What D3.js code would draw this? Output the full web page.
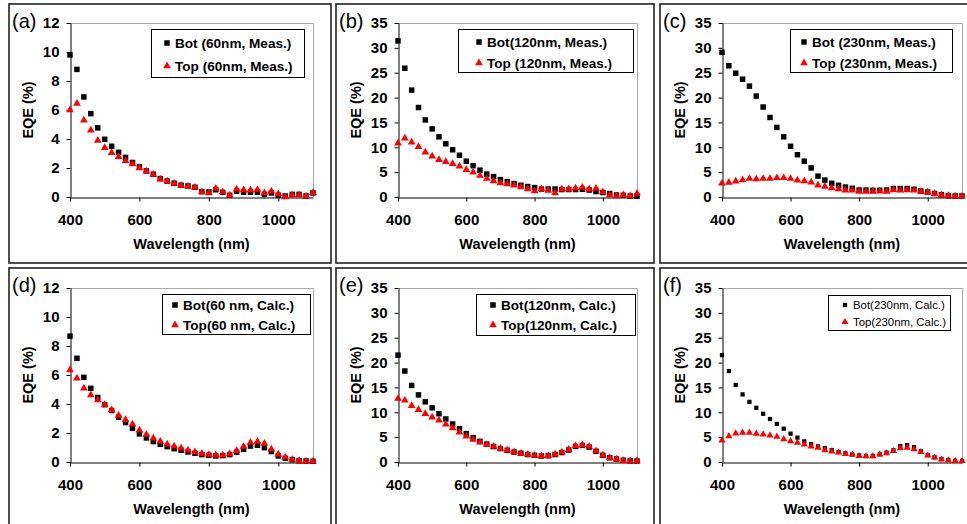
<!DOCTYPE html>
<html>
<head>
<meta charset="utf-8">
<script src="https://cdn.jsdelivr.net/npm/d3@7"></script>
<style>
  body { margin: 0; background: #fff; }
  svg { display: block; font-family: "Liberation Sans", Arial, sans-serif; }
</style>
</head>
<body>
<svg id="chart" width="967" height="524"></svg>
<script>
// wavelength grid (nm), one point every 20 nm
const wavelengths = [400, 420, 440, 460, 480, 500, 520, 540, 560, 580, 600, 620,
  640, 660, 680, 700, 720, 740, 760, 780, 800, 820, 840, 860, 880, 900, 920, 940,
  960, 980, 1000, 1020, 1040, 1060, 1080, 1100];

const xTicks = [400, 600, 800, 1000];
const yTicksSmall = [0, 2, 4, 6, 8, 10, 12];
const yTicksLarge = [0, 5, 10, 15, 20, 25, 30, 35];

// (a) 60 nm measured
const botA = [9.8, 8.8, 6.9, 5.75, 4.77, 3.98, 3.5, 3.08, 2.73, 2.38, 2.08, 1.8,
  1.57, 1.27, 1.1, 0.95, 0.81, 0.76, 0.67, 0.37, 0.35, 0.5, 0.32, 0.12, 0.4, 0.33,
  0.33, 0.33, 0.18, 0.28, 0.12, 0.07, 0.18, 0.18, 0.07, 0.28];
const topA = [6.0, 6.45, 5.3, 4.6, 3.9, 3.4, 3.05, 2.78, 2.5, 2.27, 2.0, 1.78,
  1.55, 1.23, 1.09, 0.93, 0.79, 0.72, 0.65, 0.35, 0.28, 0.58, 0.35, 0.12, 0.53, 0.49,
  0.46, 0.51, 0.28, 0.39, 0.21, 0.0, 0.12, 0.14, 0.05, 0.3];

// (b) 120 nm measured
const botB = [31.4, 25.9, 21.5, 18.0, 15.5, 13.7, 12.1, 10.7, 9.5, 8.4, 7.2, 6.3,
  5.4, 4.6, 4.1, 3.5, 3.1, 2.7, 2.35, 2.1, 1.9, 1.6, 1.6, 1.6, 1.5, 1.5,
  1.5, 1.55, 1.4, 1.1, 0.9, 0.7, 0.4, 0.35, 0.2, 0.15];
const topB = [10.8, 11.8, 11.0, 10.1, 9.0, 8.2, 7.5, 7.1, 6.7, 6.2, 5.5, 5.0,
  4.3, 3.7, 3.2, 2.8, 2.6, 2.35, 2.0, 1.6, 1.2, 1.6, 1.3, 0.8, 1.55, 1.6,
  1.75, 1.9, 1.55, 1.7, 1.0, 0.35, 0.2, 0.4, 0.2, 0.7];

// (c) 230 nm measured
const botC = [29.1, 26.4, 24.9, 23.7, 22.3, 20.3, 18.1, 16.0, 14.0, 12.1, 10.2, 8.5,
  7.2, 5.85, 4.2, 3.4, 2.75, 2.35, 2.0, 1.75, 1.4, 1.4, 1.35, 1.35, 1.4, 1.7,
  1.7, 1.7, 1.55, 1.2, 1.0, 0.7, 0.45, 0.25, 0.2, 0.2];
const topC = [2.75, 2.9, 3.15, 3.4, 3.7, 3.6, 3.7, 3.7, 3.85, 3.85, 3.7, 3.35,
  3.2, 2.95, 2.35, 2.1, 1.8, 1.6, 1.35, 1.35, 1.1, 1.1, 1.1, 1.15, 1.1, 1.4,
  1.35, 1.4, 1.35, 1.1, 0.95, 0.65, 0.4, 0.25, 0.15, 0.15];

// (d) 60 nm calculated
const botD = [8.68, 7.15, 5.84, 5.08, 4.45, 3.95, 3.55, 3.09, 2.72, 2.33, 1.94, 1.66,
  1.41, 1.22, 1.06, 0.92, 0.81, 0.69, 0.6, 0.51, 0.46, 0.42, 0.44, 0.51, 0.67, 0.88,
  1.1, 1.15, 0.99, 0.72, 0.42, 0.25, 0.16, 0.09, 0.07, 0.05];
const topD = [6.35, 5.77, 5.08, 4.62, 4.27, 3.95, 3.58, 3.21, 2.91, 2.61, 2.19, 1.89,
  1.64, 1.41, 1.22, 1.08, 0.95, 0.81, 0.69, 0.58, 0.51, 0.48, 0.46, 0.55, 0.78, 1.06,
  1.34, 1.41, 1.27, 0.88, 0.53, 0.32, 0.18, 0.09, 0.05, 0.05];

// (e) 120 nm calculated
const botE = [21.5, 18.3, 15.4, 13.5, 12.1, 10.9, 9.7, 8.65, 7.65, 6.7, 5.7, 4.9,
  4.15, 3.6, 3.1, 2.7, 2.35, 2.0, 1.75, 1.5, 1.35, 1.2, 1.25, 1.5, 1.9, 2.4,
  3.15, 3.35, 3.0, 2.15, 1.35, 0.85, 0.6, 0.35, 0.25, 0.2];
const topE = [12.75, 12.4, 11.3, 10.5, 9.7, 9.0, 8.4, 7.6, 6.85, 6.0, 5.2, 4.5,
  3.95, 3.5, 3.1, 2.7, 2.35, 2.0, 1.7, 1.5, 1.3, 1.2, 1.25, 1.55, 1.95, 2.5,
  3.2, 3.4, 3.1, 2.2, 1.35, 0.85, 0.55, 0.25, 0.2, 0.2];

// (f) 230 nm calculated
const botF = [21.5, 18.3, 15.5, 13.6, 12.1, 10.9, 9.7, 8.65, 7.65, 6.7, 5.7, 4.9,
  4.15, 3.6, 3.15, 2.8, 2.4, 2.0, 1.75, 1.5, 1.3, 1.2, 1.2, 1.55, 1.9, 2.35,
  3.2, 3.4, 3.0, 2.2, 1.4, 0.95, 0.6, 0.4, 0.25, 0.2];
const topF = [4.35, 5.2, 5.75, 5.9, 5.9, 5.7, 5.55, 5.35, 5.1, 4.6, 4.2, 3.9,
  3.55, 3.15, 2.9, 2.4, 2.1, 1.9, 1.6, 1.5, 1.2, 1.15, 1.15, 1.5, 1.75, 2.2,
  2.8, 2.9, 2.6, 2.0, 1.3, 0.9, 0.5, 0.35, 0.2, 0.2];

const panelTags = ["(a)", "(b)", "(c)", "(d)", "(e)", "(f)"];
const botLabels = ["Bot (60nm, Meas.)", "Bot(120nm, Meas.)", "Bot (230nm, Meas.)",
  "Bot(60 nm, Calc.)", "Bot(120nm, Calc.)", "Bot(230nm, Calc.)"];
const topLabels = ["Top (60nm, Meas.)", "Top (120nm, Meas.)", "Top (230nm, Meas.)",
  "Top(60 nm, Calc.)", "Top(120nm, Calc.)", "Top(230nm, Calc.)"];

// layout
const colBox = [[9, 331], [336, 654], [660, 980]];
const rowBox = [[4, 263], [268, 540]];
const colPlot = [[70, 313], [398, 637], [722, 962]];
const rowPlot = [[23, 197], [288, 462]];

const panels = [
  { bot: botA, top: topA, yMax: 12, ticks: yTicksSmall, col: 0, row: 0,
    legend: { x: 151, y: 29, w: 153, h: 48, mx: 16, r1: 14, r2: 37 } },
  { bot: botB, top: topB, yMax: 35, ticks: yTicksLarge, col: 1, row: 0,
    legend: { x: 458, y: 29, w: 175, h: 43, mx: 21, r1: 13, r2: 34 } },
  { bot: botC, top: topC, yMax: 35, ticks: yTicksLarge, col: 2, row: 0,
    legend: { x: 790, y: 29, w: 162, h: 43, mx: 14, r1: 13, r2: 34 } },
  { bot: botD, top: topD, yMax: 12, ticks: yTicksSmall, col: 0, row: 1,
    legend: { x: 162, y: 294, w: 148, h: 40, mx: 13, r1: 11, r2: 31 } },
  { bot: botE, top: topE, yMax: 35, ticks: yTicksLarge, col: 1, row: 1,
    legend: { x: 476, y: 294, w: 159, h: 41, mx: 17, r1: 11, r2: 31 } },
  { bot: botF, top: topF, yMax: 35, ticks: yTicksLarge, col: 2, row: 1, small: true,
    legend: { x: 828, y: 295, w: 122, h: 35, mx: 17, r1: 10, r2: 27 } }
];

const svg = d3.select("#chart");
const red = "#ff0000";

panels.forEach((p, i) => {
  const bx = colBox[p.col], by = rowBox[p.row];
  const px = colPlot[p.col], py = rowPlot[p.row];

  // panel frame
  svg.append("rect")
    .attr("x", bx[0]).attr("y", by[0])
    .attr("width", bx[1] - bx[0]).attr("height", by[1] - by[0])
    .attr("fill", "none").attr("stroke", "#222").attr("stroke-width", 1.6);

  const x = d3.scaleLinear().domain([400, 1100]).range(px);
  const y = d3.scaleLinear().domain([0, p.yMax]).range([py[1], py[0]]);

  const g = svg.append("g");

  // top/right plot border in light grey
  g.append("path")
    .attr("d", `M${px[0]},${py[0] + 0.5}H${px[1] + 0.5}V${py[1]}`)
    .attr("fill", "none").attr("stroke", "#a8a8a8").attr("stroke-width", 1);

  const yAxis = g.append("g")
    .attr("transform", `translate(${px[0] + 0.5},0)`)
    .call(d3.axisLeft(y).tickValues(p.ticks).tickSize(4).tickPadding(7).tickSizeOuter(0));
  const xAxis = g.append("g")
    .attr("transform", `translate(0,${py[1] + 0.5})`)
    .call(d3.axisBottom(x).tickValues(xTicks).tickFormat(d3.format("d"))
      .tickSize(4).tickPadding(13).tickSizeOuter(0));

  [xAxis, yAxis].forEach((a) => {
    a.selectAll("text").attr("font-size", 15).attr("font-weight", "bold")
      .attr("fill", "#000").attr("font-family", "Liberation Sans, Arial, sans-serif");
    a.selectAll("line, path").attr("stroke", "#000");
  });

  // axis titles
  g.append("text")
    .attr("x", (px[0] + px[1]) / 2).attr("y", py[1] + 52)
    .attr("text-anchor", "middle").attr("font-size", 14.5).attr("font-weight", "bold")
    .text("Wavelength (nm)");
  g.append("text")
    .attr("transform", `translate(${px[0] - 37},${(py[0] + py[1]) / 2}) rotate(-90)`)
    .attr("text-anchor", "middle").attr("font-size", 14.5).attr("font-weight", "bold")
    .text("EQE (%)");

  // panel tag
  svg.append("text")
    .attr("x", bx[0] + 3).attr("y", by[0] + 24)
    .attr("font-size", 20)
    .text(panelTags[i]);

  const sq = d3.symbol().type(d3.symbolSquare).size(p.small ? 18 : 30);
  const tri = d3.symbol().type(d3.symbolTriangle).size(p.small ? 22 : 26);

  // data markers: bottom (black squares) first, top (red triangles) over them
  g.selectAll(".bot")
    .data(wavelengths.map((w, k) => [w, p.bot[k]]))
    .join("path")
    .attr("class", "bot")
    .attr("d", sq)
    .attr("transform", (d) => `translate(${x(d[0])},${y(d[1])})`)
    .attr("fill", "#000");
  g.selectAll(".top")
    .data(wavelengths.map((w, k) => [w, p.top[k]]))
    .join("path")
    .attr("class", "top")
    .attr("d", tri)
    .attr("transform", (d) => `translate(${x(d[0])},${y(d[1])})`)
    .attr("fill", red);

  // legend
  const L = p.legend;
  const lg = g.append("g").attr("transform", `translate(${L.x},${L.y})`);
  lg.append("rect")
    .attr("x", 0.5).attr("y", 0.5).attr("width", L.w).attr("height", L.h)
    .attr("fill", "#fff").attr("stroke", "#000").attr("stroke-width", 1);
  const fs = p.small ? 11.4 : 13.6;
  const fw = p.small ? "normal" : "bold";
  lg.append("path").attr("d", sq).attr("fill", "#000")
    .attr("transform", `translate(${L.mx},${L.r1})`);
  lg.append("path").attr("d", tri).attr("fill", red)
    .attr("transform", `translate(${L.mx},${L.r2})`);
  lg.append("text").attr("x", L.mx + 8).attr("y", L.r1).attr("dy", "0.35em")
    .attr("font-size", fs).attr("font-weight", fw).text(botLabels[i]);
  lg.append("text").attr("x", L.mx + 8).attr("y", L.r2).attr("dy", "0.35em")
    .attr("font-size", fs).attr("font-weight", fw).text(topLabels[i]);
});
</script>
</body>
</html>
